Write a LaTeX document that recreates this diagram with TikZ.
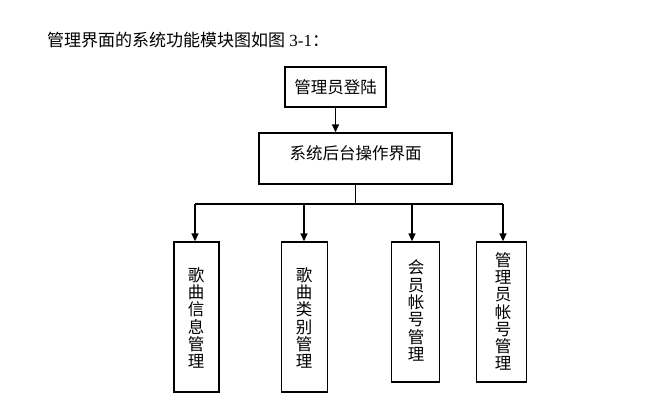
\documentclass[tikz,border=0pt]{standalone}
\usepackage{fontspec}
\setmainfont{Liberation Serif}
\newfontfamily\cjk{Noto Sans CJK SC}
\usetikzlibrary{arrows.meta}
\begin{document}
\begin{tikzpicture}[x=1pt,y=-1pt,
  box/.style={draw=black,line width=1.3pt,inner sep=0pt},
  lbl/.style={font=\cjk\fontsize{16.5}{17.3}\selectfont,inner sep=0pt,align=center},
  conn/.style={line width=1.3pt,-{Triangle[length=8pt,width=7pt]}},
  ln/.style={line width=1.3pt}]
\useasboundingbox (0,0) rectangle (672,413);
\node[anchor=west,inner sep=0pt,font=\fontsize{17}{20}\selectfont] (title) at (47,40) {{\cjk 管理界面的系统功能模块图如图} 3-1{\cjk ：}};
\node[box,minimum width=101pt,minimum height=40pt,lbl] (login) at (335.5,87) {管理员登陆};
\node[box,minimum width=193pt,minimum height=51pt] (sys) at (355.5,158.5) {};
\node[lbl] (syslbl) at (355.5,153) {系统后台操作界面};
\node[box,minimum width=45pt,minimum height=150pt] (m1) at (196.5,317) {};
\node[box,minimum width=45.5pt,minimum height=150pt] (m2) at (304.5,317) {};
\node[box,minimum width=47.5pt,minimum height=140pt] (m3) at (415.5,312) {};
\node[box,minimum width=50pt,minimum height=140pt] (m4) at (501.7,312) {};
\node[lbl] (t1) at (196,318) {歌\\曲\\信\\息\\管\\理};
\node[lbl] (t2) at (304,318) {歌\\曲\\类\\别\\管\\理};
\node[lbl] (t3) at (416,310.5) {会\\员\\帐\\号\\管\\理};
\node[lbl] (t4) at (503,311.5) {管\\理\\员\\帐\\号\\管\\理};
\draw[conn] (login.south) -- (sys.north -| login.south);
\coordinate (jn) at (355.5,204);
\draw[ln] (sys.south) -- (jn);
\draw[ln] ([xshift=-1.5pt]jn -| m1.north) -- ([xshift=1.3pt]jn -| m4.north);
\draw[conn] ([xshift=-1.5pt]jn -| m1.north) -- ([xshift=-1.5pt]m1.north);
\draw[conn] ([xshift=-0.5pt]jn -| m2.north) -- ([xshift=-0.5pt]m2.north);
\draw[conn] ([xshift=-3.5pt]jn -| m3.north) -- ([xshift=-3.5pt]m3.north);
\draw[conn] ([xshift=1.3pt]jn -| m4.north) -- ([xshift=1.3pt]m4.north);
\end{tikzpicture}
\end{document}
